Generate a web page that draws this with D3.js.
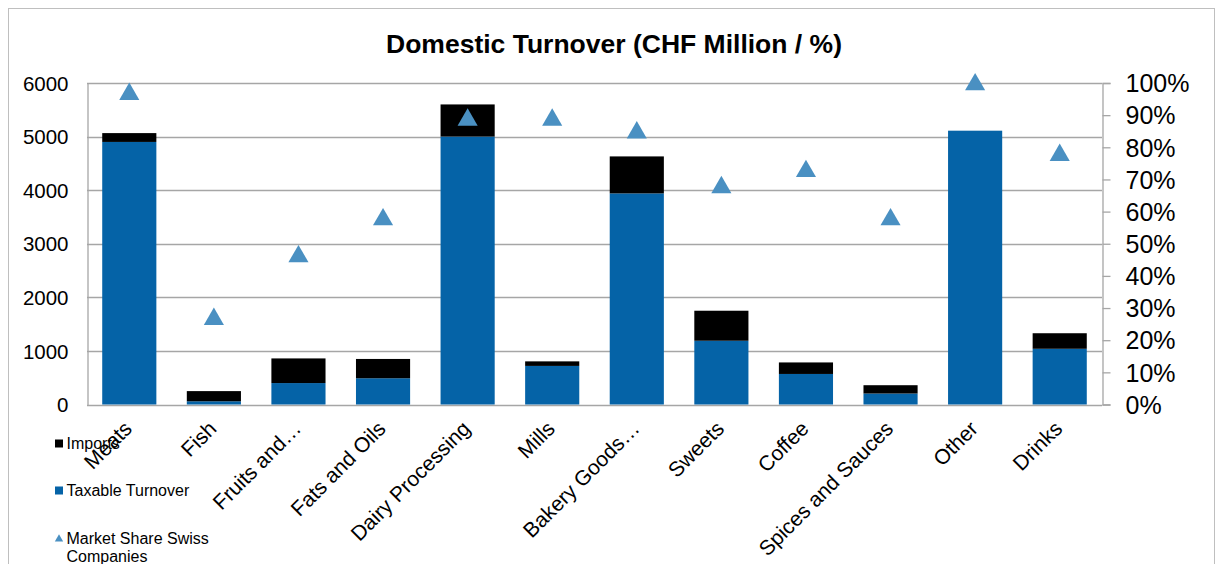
<!DOCTYPE html>
<html>
<head>
  <meta charset="utf-8">
  <title>Domestic Turnover</title>
  <script src="https://d3js.org/d3.v7.min.js"></script>
  <style>
    body { margin: 0; background: #fff; }
    text { font-family: "Liberation Sans", Arial, sans-serif; fill: #000; }
  </style>
</head>
<body>
  <div id="container"></div>
  <script>
  // data
  const categories = ["Meats", "Fish", "Fruits and\u2026", "Fats and Oils", "Dairy Processing", "Mills",
    "Bakery Goods\u2026", "Sweets", "Coffee", "Spices and Sauces", "Other", "Drinks"];
  const taxableTurnover = [4900, 60, 400, 490, 5000, 720, 3940, 1190, 570, 205, 5110, 1040];
  const imports = [165, 190, 460, 360, 600, 85, 690, 560, 215, 155, 0, 290];
  const marketShare = [97, 27, 46.5, 58, 89, 89, 85, 68, 73, 58, 100, 78];
  const leftTicks = [0, 1000, 2000, 3000, 4000, 5000, 6000];
  const rightTicks = [0, 10, 20, 30, 40, 50, 60, 70, 80, 90, 100];

  const width = 1219,
    height = 564;
  const plot = { left: 87, right: 1102, top: 83, bottom: 404.5 };
  const blue = "#0563a7",
    triBlue = "#4a90c2",
    grid = "#a6a6a6";

  const svg = d3.select("#container")
    .append("svg")
    .attr("width", width)
    .attr("height", height);

  // chart frame
  svg.append("rect")
    .attr("x", 8.5)
    .attr("y", 8.5)
    .attr("width", 1206)
    .attr("height", 620)
    .attr("fill", "none")
    .attr("stroke", "#bfbfbf");

  svg.append("text")
    .text("Domestic Turnover (CHF Million / %)")
    .attr("x", 614)
    .attr("y", 53)
    .attr("text-anchor", "middle")
    .style("font-weight", "bold")
    .style("font-size", "26.5px");

  const x = d3.scaleBand()
    .domain(categories)
    .range([plot.left, plot.right])
    .paddingInner(0.36)
    .paddingOuter(0.18);
  const y = d3.scaleLinear()
    .domain([0, 6000])
    .range([plot.bottom, plot.top]);
  const yPct = d3.scaleLinear()
    .domain([0, 100])
    .range([plot.bottom, plot.top]);

  // gridlines
  svg.append("g")
    .selectAll("line")
    .data(leftTicks)
    .enter()
    .append("line")
    .attr("x1", plot.left)
    .attr("x2", plot.right)
    .attr("y1", d => Math.round(y(d)) + 0.5)
    .attr("y2", d => Math.round(y(d)) + 0.5)
    .attr("stroke", grid)
    .attr("stroke-width", 1.3);

  // left axis
  const leftAxis = svg.append("g")
    .attr("transform", "translate(" + (plot.left + 0.5) + ",0)")
    .call(d3.axisLeft(y).tickValues(leftTicks).tickFormat(d3.format("d")).tickSize(0).tickPadding(19));
  leftAxis.select(".domain").attr("stroke", grid).attr("stroke-width", 1.3);
  leftAxis.selectAll("text")
    .style("font-size", "20.5px")
    .style("font-family", "Liberation Sans, Arial, sans-serif")
    .attr("dy", "0.35em");

  // right axis
  const rightAxis = svg.append("g")
    .attr("transform", "translate(" + (plot.right + 0.5) + ",0)")
    .call(d3.axisRight(yPct).tickValues(rightTicks).tickFormat(d => d + "%").tickSize(8).tickPadding(15));
  rightAxis.select(".domain").attr("stroke", grid).attr("stroke-width", 1.3);
  rightAxis.selectAll(".tick line").attr("stroke", grid).attr("stroke-width", 1.3);
  rightAxis.selectAll("text")
    .style("font-size", "25px")
    .style("font-family", "Liberation Sans, Arial, sans-serif")
    .attr("dy", "0.35em");

  // stacked bars
  const bars = svg.append("g");
  bars.selectAll("rect.tax")
    .data(categories)
    .enter()
    .append("rect")
    .attr("class", "tax")
    .attr("x", d => x(d))
    .attr("width", x.bandwidth())
    .attr("y", (d, i) => y(taxableTurnover[i]))
    .attr("height", (d, i) => y(0) - y(taxableTurnover[i]))
    .attr("fill", blue);
  bars.selectAll("rect.imp")
    .data(categories)
    .enter()
    .append("rect")
    .attr("class", "imp")
    .attr("x", d => x(d))
    .attr("width", x.bandwidth())
    .attr("y", (d, i) => y(taxableTurnover[i] + imports[i]))
    .attr("height", (d, i) => y(taxableTurnover[i]) - y(taxableTurnover[i] + imports[i]))
    .attr("fill", "#000");

  // market share markers
  const tri = d3.symbol().type(d3.symbolTriangle).size(175);
  svg.append("g")
    .selectAll("path")
    .data(categories)
    .enter()
    .append("path")
    .attr("d", tri)
    .attr("transform", (d, i) => "translate(" + (x(d) + x.bandwidth() / 2) + "," + (yPct(marketShare[i]) + 1.5) + ")")
    .attr("fill", triBlue);

  // category labels
  svg.append("g")
    .selectAll("text")
    .data(categories)
    .enter()
    .append("text")
    .text(d => d)
    .attr("text-anchor", "end")
    .attr("transform", d => "translate(" + (x(d) + x.bandwidth() / 2 + 4) + ",430) rotate(-45)")
    .style("font-size", "21px");

  // legend
  const legend = svg.append("g").style("font-size", "16px");
  legend.append("rect").attr("x", 55).attr("y", 439.5).attr("width", 8).attr("height", 8).attr("fill", "#000");
  legend.append("text").text("Imports").attr("x", 66.5).attr("y", 449);
  legend.append("rect").attr("x", 55).attr("y", 486.5).attr("width", 8).attr("height", 8).attr("fill", blue);
  legend.append("text").text("Taxable Turnover").attr("x", 66.5).attr("y", 496);
  legend.append("path")
    .attr("d", d3.symbol().type(d3.symbolTriangle).size(30))
    .attr("transform", "translate(59,539)")
    .attr("fill", triBlue);
  legend.append("text").text("Market Share Swiss").attr("x", 66.5).attr("y", 544);
  legend.append("text").text("Companies").attr("x", 66.5).attr("y", 562);
  </script>
</body>
</html>
